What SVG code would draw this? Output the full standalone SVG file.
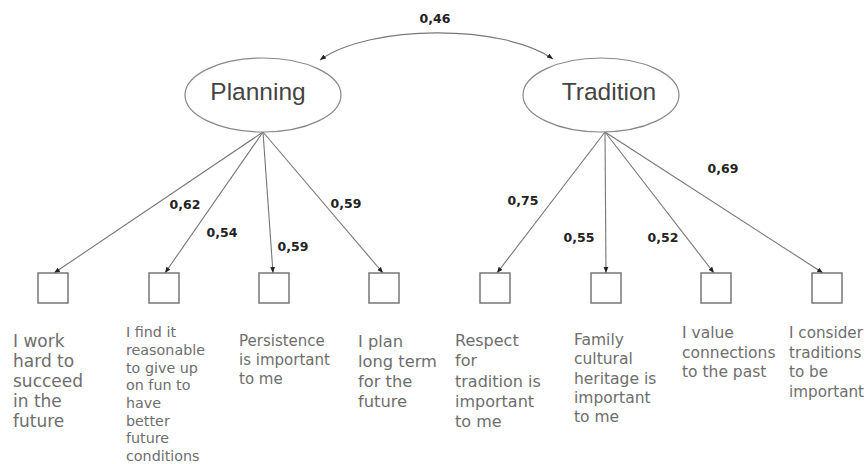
<svg xmlns="http://www.w3.org/2000/svg" width="866" height="464" viewBox="0 0 866 464">
<style>
.lat{fill:#fff;stroke:#888;stroke-width:1.2}
.latt{font-family:"Liberation Sans",Arial,sans-serif;font-size:24.5px;fill:#444;text-anchor:middle}
.box{fill:#fff;stroke:#777;stroke-width:1.5}
.con{fill:none;stroke:#777;stroke-width:1.1}
.w{font-family:"DejaVu Sans",sans-serif;font-weight:bold;font-size:12.5px;fill:#222;text-anchor:middle}
.it{font-family:"DejaVu Sans",sans-serif;fill:#6e6e6e}
</style>
<defs>
<marker id="ah" viewBox="0 0 10 10" refX="10" refY="5" markerWidth="6" markerHeight="6" orient="auto-start-reverse" markerUnits="userSpaceOnUse">
<path d="M0,1 L10,5 L0,9 z" fill="#222"/>
</marker>
</defs>
<rect width="866" height="464" fill="#fff"/>
<g id="connectors">
<path class="con" d="M320,60 C370,24 503,24 553,59" marker-start="url(#ah)" marker-end="url(#ah)"/>
<line class="con" x1="263" y1="132" x2="54" y2="273" marker-end="url(#ah)"/>
<line class="con" x1="263" y1="132" x2="165" y2="273" marker-end="url(#ah)"/>
<line class="con" x1="263" y1="132" x2="273" y2="273" marker-end="url(#ah)"/>
<line class="con" x1="263" y1="132" x2="383" y2="273" marker-end="url(#ah)"/>
<line class="con" x1="605" y1="132" x2="497" y2="273" marker-end="url(#ah)"/>
<line class="con" x1="605" y1="132" x2="606" y2="273" marker-end="url(#ah)"/>
<line class="con" x1="605" y1="132" x2="714" y2="273" marker-end="url(#ah)"/>
<line class="con" x1="605" y1="132" x2="823" y2="273" marker-end="url(#ah)"/>
<text class="w" x="435" y="23">0,46</text>
<text class="w" x="185" y="209">0,62</text>
<text class="w" x="222" y="237">0,54</text>
<text class="w" x="293" y="251">0,59</text>
<text class="w" x="346" y="208">0,59</text>
<text class="w" x="523" y="205">0,75</text>
<text class="w" x="579" y="242">0,55</text>
<text class="w" x="663" y="242">0,52</text>
<text class="w" x="723" y="173">0,69</text>
</g>
<g id="planning">
<ellipse class="lat" cx="263" cy="95" rx="78" ry="37"/>
<text class="latt" x="258" y="100">Planning</text>
</g>
<g id="tradition">
<ellipse class="lat" cx="601" cy="95" rx="78" ry="37"/>
<text class="latt" x="609" y="100">Tradition</text>
</g>
<g id="item1">
<rect class="box" x="38" y="273" width="30" height="30"/>
<text class="it" font-size="17" x="13"><tspan x="13" y="347">I work</tspan><tspan x="13" y="367">hard to</tspan><tspan x="13" y="387">succeed</tspan><tspan x="13" y="407">in the</tspan><tspan x="13" y="427">future</tspan></text>
</g>
<g id="item2">
<rect class="box" x="149" y="273" width="30" height="30"/>
<text class="it" font-size="14.3" x="126"><tspan x="126" y="337">I find it</tspan><tspan x="126" y="355">reasonable</tspan><tspan x="126" y="373">to give up</tspan><tspan x="126" y="390">on fun to</tspan><tspan x="126" y="408">have</tspan><tspan x="126" y="426">better</tspan><tspan x="126" y="443">future</tspan><tspan x="126" y="461">conditions</tspan></text>
</g>
<g id="item3">
<rect class="box" x="259" y="273" width="30" height="30"/>
<text class="it" font-size="15" x="239"><tspan x="239" y="346">Persistence</tspan><tspan x="239" y="365">is important</tspan><tspan x="239" y="384">to me</tspan></text>
</g>
<g id="item4">
<rect class="box" x="369" y="273" width="30" height="30"/>
<text class="it" font-size="16.3" x="358"><tspan x="358" y="347">I plan</tspan><tspan x="358" y="367">long term</tspan><tspan x="358" y="387">for the</tspan><tspan x="358" y="407">future</tspan></text>
</g>
<g id="item5">
<rect class="box" x="480" y="273" width="30" height="30"/>
<text class="it" font-size="16" x="455"><tspan x="455" y="346">Respect</tspan><tspan x="455" y="366">for</tspan><tspan x="455" y="387">tradition is</tspan><tspan x="455" y="407">important</tspan><tspan x="455" y="427">to me</tspan></text>
</g>
<g id="item6">
<rect class="box" x="591" y="273" width="30" height="30"/>
<text class="it" font-size="15.5" x="574"><tspan x="574" y="345">Family</tspan><tspan x="574" y="364">cultural</tspan><tspan x="574" y="384">heritage is</tspan><tspan x="574" y="403">important</tspan><tspan x="574" y="422">to me</tspan></text>
</g>
<g id="item7">
<rect class="box" x="701" y="273" width="30" height="30"/>
<text class="it" font-size="15.5" x="682"><tspan x="682" y="338">I value</tspan><tspan x="682" y="358">connections</tspan><tspan x="682" y="377">to the past</tspan></text>
</g>
<g id="item8">
<rect class="box" x="812" y="273" width="30" height="30"/>
<text class="it" font-size="15.2" x="789"><tspan x="789" y="338">I consider</tspan><tspan x="789" y="358">traditions</tspan><tspan x="789" y="377">to be</tspan><tspan x="789" y="397">important</tspan></text>
</g>
</svg>
